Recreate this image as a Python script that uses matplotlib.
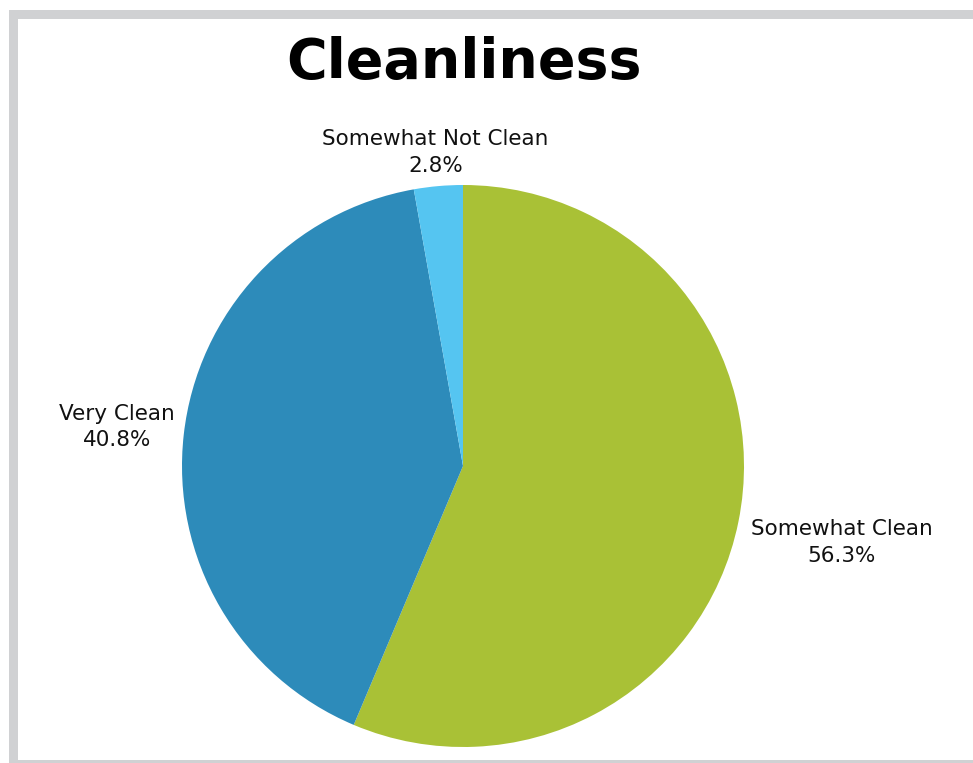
import numpy as np
import matplotlib
matplotlib.use('Agg')
import matplotlib.pyplot as plt
from matplotlib.patches import Rectangle

# data
categories = ['Somewhat Clean', 'Very Clean', 'Somewhat Not Clean']
shares = [56.3, 40.8, 2.8]
colors = ['#A9C136', '#2D8BBA', '#55C5F1']
label_dist = [1.375, 1.24, 1.12]

W, H = 973, 763
fig = plt.figure(figsize=(W / 100, H / 100), dpi=100)
fig.patch.set_facecolor('white')

# grey frame (left, top, bottom bands)
frame = '#D0D1D3'
for x0, y0, x1, y1 in [(9, 10, 17.7, 763), (9, 10, 973, 18.5), (9, 760, 973, 763)]:
    fig.patches.append(Rectangle((x0 / W, 1 - y1 / H), (x1 - x0) / W, (y1 - y0) / H,
                                 transform=fig.transFigure, facecolor=frame,
                                 edgecolor='none', zorder=0))

# pie axes: centre (463, 466), radius 281 px
cx, cy, r = 463, 466, 281
ax = fig.add_axes([(cx - r) / W, 1 - (cy + r) / H, 2 * r / W, 2 * r / H])
wedges, _ = ax.pie(shares, colors=colors, startangle=90, counterclock=False,
                   radius=1, wedgeprops=dict(linewidth=0, edgecolor='none'))
ax.set_xlim(-1, 1)
ax.set_ylim(-1, 1)
ax.set_aspect('equal')
ax.axis('off')

for w, name, val, d in zip(wedges, categories, shares, label_dist):
    ang = np.deg2rad((w.theta1 + w.theta2) / 2)
    ax.text(d * np.cos(ang), d * np.sin(ang), f'{name}\n{val:.1f}%',
            ha='center', va='center', multialignment='center',
            fontsize=15.5, color='#111111', linespacing=1.4, clip_on=False)

fig.text(464 / W, 1 - 63 / H, 'Cleanliness', ha='center', va='center',
         fontsize=40, fontweight='bold', color='black')

fig.savefig('out.png', dpi=100)
